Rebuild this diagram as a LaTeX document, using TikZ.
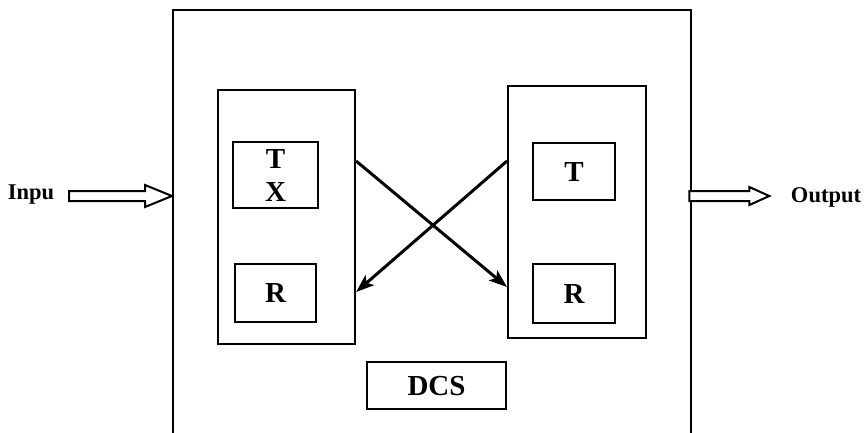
\documentclass[tikz,border=0pt]{standalone}
\usepackage{fontspec}
\setmainfont{Liberation Serif}
\usetikzlibrary{arrows.meta,calc}
\begin{document}
\begin{tikzpicture}[x=1pt,y=-1pt,
  frame/.style={draw=black,line width=2.3pt,inner sep=0pt,anchor=north west},
  unitbox/.style={draw=black,line width=2.1pt,inner sep=0pt,anchor=north west},
  boxtext/.style={font=\bfseries\fontsize{29}{33}\selectfont,align=center},
  iolabel/.style={font=\bfseries\fontsize{22.5}{26}\selectfont,inner sep=0pt},
  link/.style={line width=3pt,-{Stealth[length=18pt,width=13pt,inset=4pt]}},
  hollow/.style={draw=black,line width=2pt,fill=white,line join=miter}]
  \useasboundingbox (0,0) rectangle (867,432);

  % outer system frame
  \node[frame,minimum width=518pt,minimum height=423.5pt] (sys) at (172,9) {};

  % left unit with its transmitter and receiver
  \node[unitbox,minimum width=137pt,minimum height=254pt] (lbox) at (217,89) {};
  \node[unitbox,minimum width=85pt,minimum height=66pt,boxtext] (ltx) at (232,141) {T\\X};
  \node[unitbox,minimum width=81pt,minimum height=58pt,boxtext] (lrx) at (234,263) {R};

  % right unit with its transmitter and receiver
  \node[unitbox,minimum width=138pt,minimum height=252pt] (rbox) at (507,85) {};
  \node[unitbox,minimum width=82pt,minimum height=57pt,boxtext] (rtx) at (532,142) {T};
  \node[unitbox,minimum width=82pt,minimum height=59pt,boxtext] (rrx) at (532,263) {R};

  % control block
  \node[unitbox,minimum width=139pt,minimum height=47pt,boxtext] (dcs) at (366,361) {DCS};

  % crossing links between the units
  \path (lbox.north east) ++(0,72) coordinate (lout);
  \path (rbox.north west) ++(0,76) coordinate (rout);
  \path (rbox.north west) ++(0,202) coordinate (rin);
  \path (lbox.north east) ++(0,203) coordinate (lin);
  \draw[link] (lout) -- (rin);
  \draw[link] (rout) -- (lin);

  % input and output block arrows
  \path (sys.north west) ++(0,187) coordinate (intip);
  \path (sys.north east) ++(0,187) coordinate (outbase);
  \draw[hollow] ($(intip)+(-103,-5)$) -- ++(76,0) -- ++(0,-6) -- (intip)
     -- ++(-27,11) -- ++(0,-6) -- ++(-76,0) -- cycle;
  \draw[hollow] ($(outbase)+(-3,-5)$) -- ++(60,0) -- ++(0,-4) -- ++(20,9)
     -- ++(-20,9) -- ++(0,-4) -- ++(-60,0) -- cycle;

  \node[iolabel] (inlbl) at (31,195) {Inpu};
  \node[iolabel] (outlbl) at (826,197) {Output};
\end{tikzpicture}
\end{document}
